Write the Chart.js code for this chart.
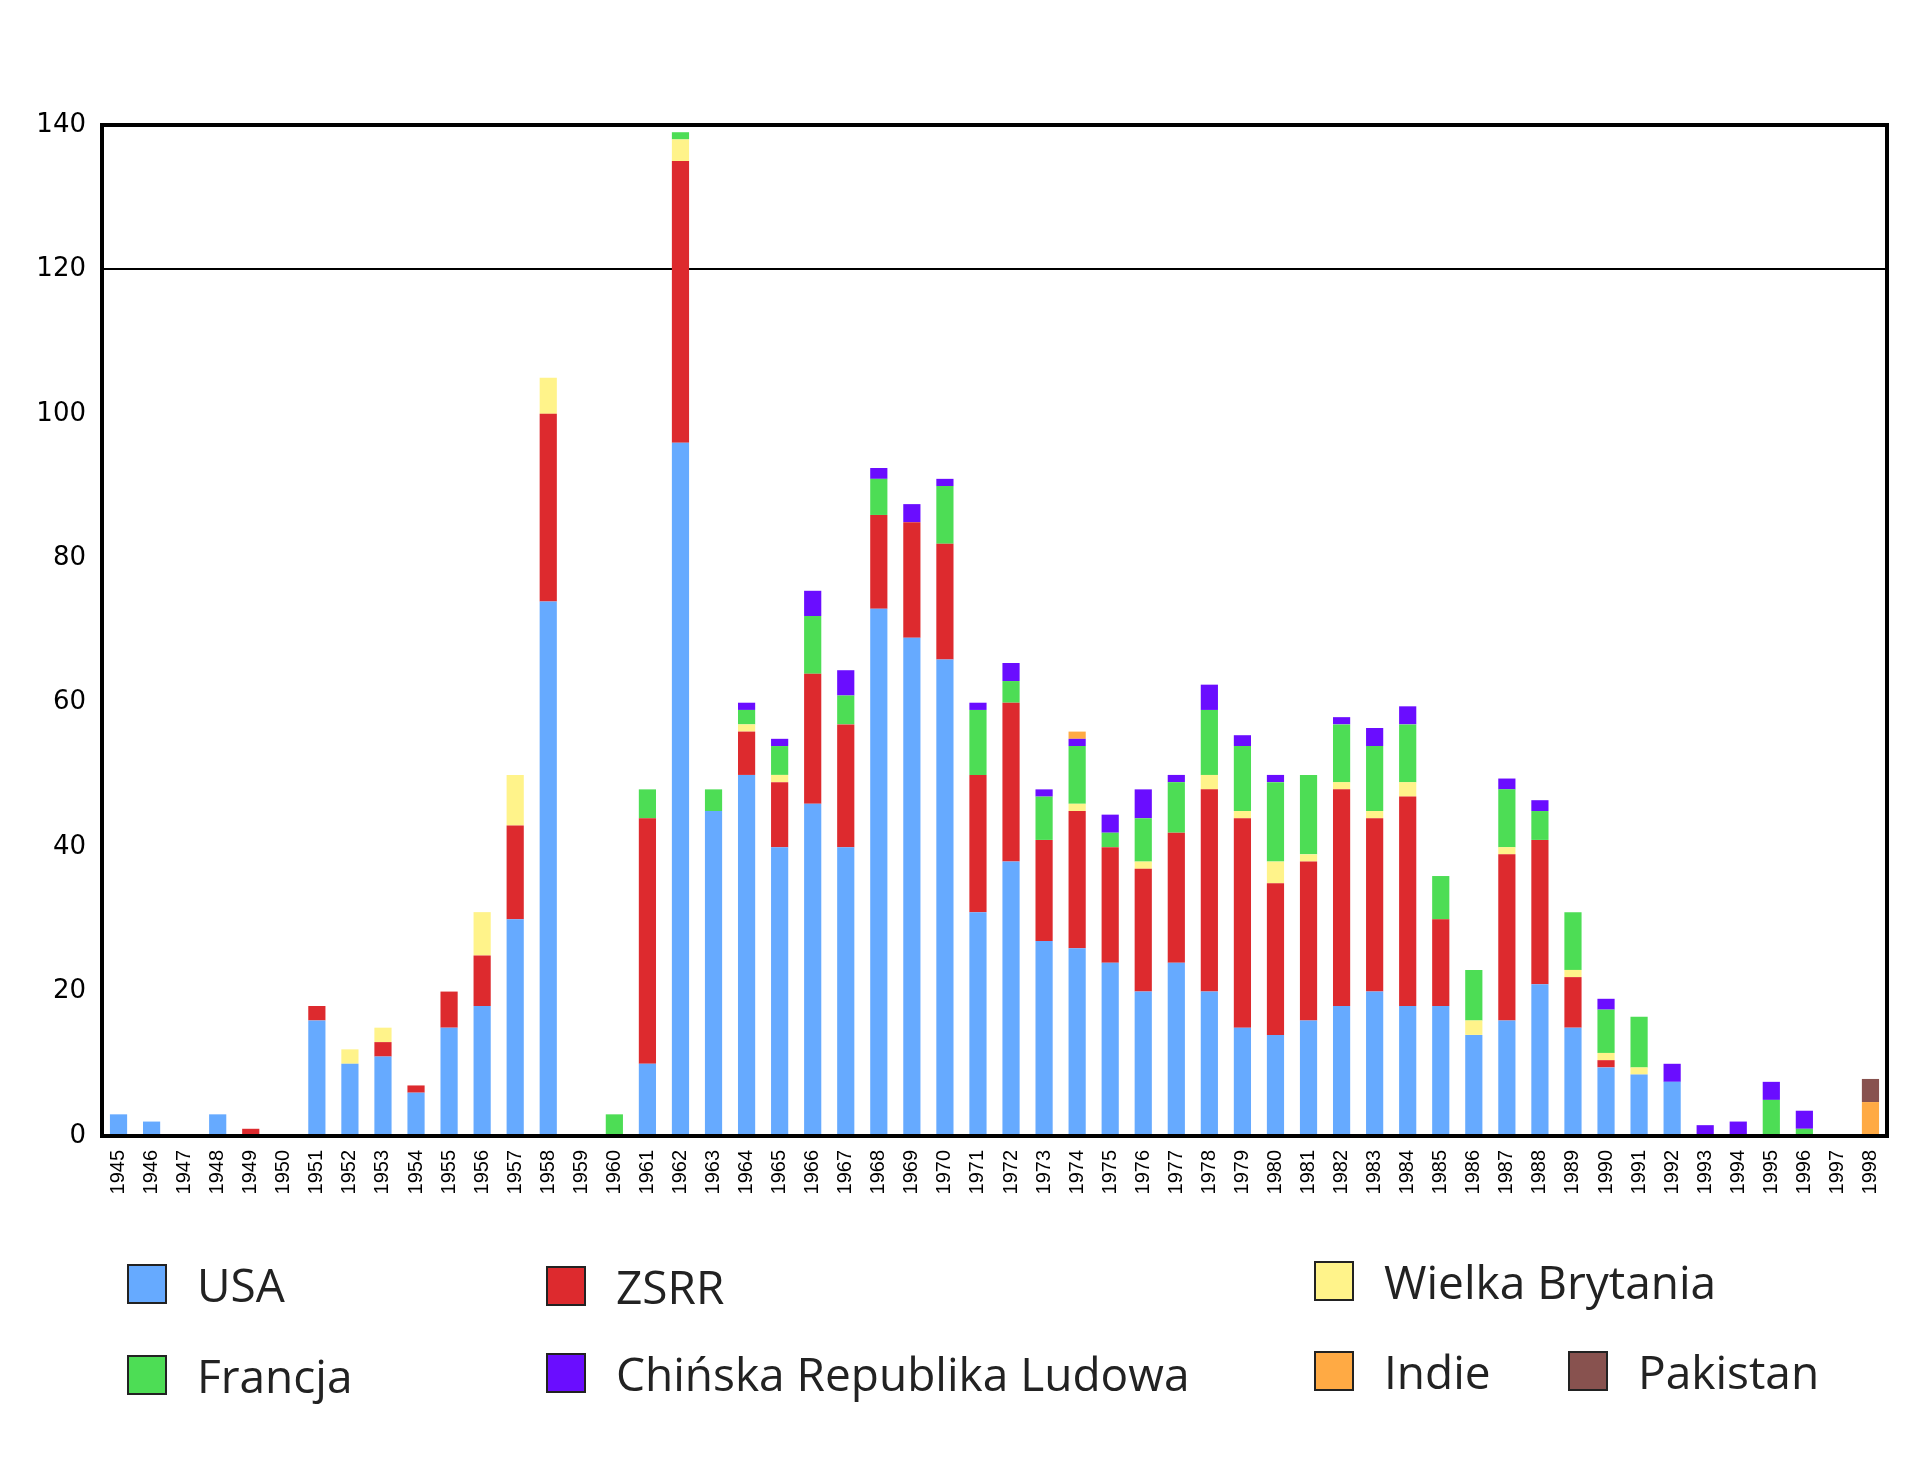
<!DOCTYPE html>
<html><head><meta charset="utf-8">
<script src="https://cdn.jsdelivr.net/npm/chart.js@4"></script>
<style>
body{margin:0;background:#fff;width:1920px;height:1462px;position:relative;overflow:hidden;font-family:"Open Sans","Noto Sans",sans-serif;}
canvas{position:absolute;left:0;top:0;}
.lg{position:absolute;font-size:46px;color:#222;display:flex;align-items:center;}
.lg span{display:inline-block;width:40px;height:40px;border:2px solid #222;margin-right:30px;box-sizing:border-box;}
</style></head><body>
<canvas id="c" width="1920" height="1462"></canvas>
<div class="lg" style="left:127px;top:1253px"><span style="background:#66aaff"></span>USA</div>
<div class="lg" style="left:546px;top:1255px"><span style="background:#dd2a2e"></span>ZSRR</div>
<div class="lg" style="left:1314px;top:1250px"><span style="background:#fff38a"></span>Wielka Brytania</div>
<div class="lg" style="left:127px;top:1344px"><span style="background:#4ddd55"></span>Francja</div>
<div class="lg" style="left:546px;top:1342px"><span style="background:#6a0dff"></span>Chińska Republika Ludowa</div>
<div class="lg" style="left:1314px;top:1340px"><span style="background:#ffaa44"></span>Indie</div>
<div class="lg" style="left:1568px;top:1340px"><span style="background:#88524f"></span>Pakistan</div>
<script>
const years=[];for(let y=1945;y<=1998;y++)years.push(String(y));
const usa=[3,2,0,3,0,0,16,10,11,6,15,18,30,74,0,0,10,96,45,50,40,46,40,73,69,66,31,38,27,26,24,20,24,20,15,14,16,18,20,18,18,14,16,21,15,9.5,8.5,7.5,0,0,0,0,0,0];
const zsrr=[0,0,0,0,1,0,2,0,2,1,5,7,13,26,0,0,34,39,0,6,9,18,17,13,16,16,19,22,14,19,16,17,18,28,29,21,22,30,24,29,12,0,23,20,7,1,0,0,0,0,0,0,0,0];
const uk=[0,0,0,0,0,0,0,2,2,0,0,6,7,5,0,0,0,3,0,1,1,0,0,0,0,0,0,0,0,1,0,1,0,2,1,3,1,1,1,2,0,2,1,0,1,1,1,0,0,0,0,0,0,0];
const france=[0,0,0,0,0,0,0,0,0,0,0,0,0,0,0,3,4,1,3,2,4,8,4,5,0,8,9,3,6,8,2,6,7,9,9,11,11,8,9,8,6,7,8,4,8,6,7,0,0,0,5,1,0,0];
const china=[0,0,0,0,0,0,0,0,0,0,0,0,0,0,0,0,0,0,0,1,1,3.5,3.5,1.5,2.5,1,1,2.5,1,1,2.5,4,1,3.5,1.5,1,0,1,2.5,2.5,0,0,1.5,1.5,0,1.5,0,2.5,1.5,2,2.5,2.5,0,0];
const india=[0,0,0,0,0,0,0,0,0,0,0,0,0,0,0,0,0,0,0,0,0,0,0,0,0,0,0,0,0,1,0,0,0,0,0,0,0,0,0,0,0,0,0,0,0,0,0,0,0,0,0,0,0,4.7];
const pakistan=[0,0,0,0,0,0,0,0,0,0,0,0,0,0,0,0,0,0,0,0,0,0,0,0,0,0,0,0,0,0,0,0,0,0,0,0,0,0,0,0,0,0,0,0,0,0,0,0,0,0,0,0,0,3.2];
const yTicks=[0,20,40,60,80,100,120,140];
const mk=(l,d,c)=>({label:l,data:d,backgroundColor:c,barPercentage:0.52,categoryPercentage:1});
const border={id:'b',afterDraw(ch){const a=ch.chartArea,x=ch.ctx;x.save();x.strokeStyle='#000';x.lineWidth=4;x.strokeRect(a.left,a.top,a.right-a.left,a.bottom-a.top);x.restore();}};
new Chart(document.getElementById('c'),{type:'bar',
data:{labels:years,datasets:[mk('USA',usa,'#66aaff'),mk('ZSRR',zsrr,'#dd2a2e'),mk('Wielka Brytania',uk,'#fff38a'),mk('Francja',france,'#4ddd55'),mk('Chińska Republika Ludowa',china,'#6a0dff'),mk('Indie',india,'#ffaa44'),mk('Pakistan',pakistan,'#88524f')]},
options:{responsive:false,animation:false,layout:{padding:{top:125,right:33,left:0,bottom:0}},
plugins:{legend:{display:false},tooltip:{enabled:false}},
scales:{
x:{stacked:true,grid:{display:false},border:{display:false},
 ticks:{autoSkip:false,maxRotation:90,minRotation:90,color:'#000',font:{family:'Liberation Sans',size:20},padding:6},
 afterFit(s){s.height=326;}},
y:{stacked:true,min:0,max:140,afterBuildTicks(s){s.ticks=yTicks.map(v=>({value:v}));},
 grid:{color:c=>c.tick&&c.tick.value===120?'#000':'rgba(0,0,0,0)',lineWidth:2,drawTicks:false},border:{display:false},
 ticks:{color:'#000',font:{family:'DejaVu Sans',size:26},padding:16},
 afterFit(s){s.width=102;}}}},
plugins:[border]});
</script></body></html>
